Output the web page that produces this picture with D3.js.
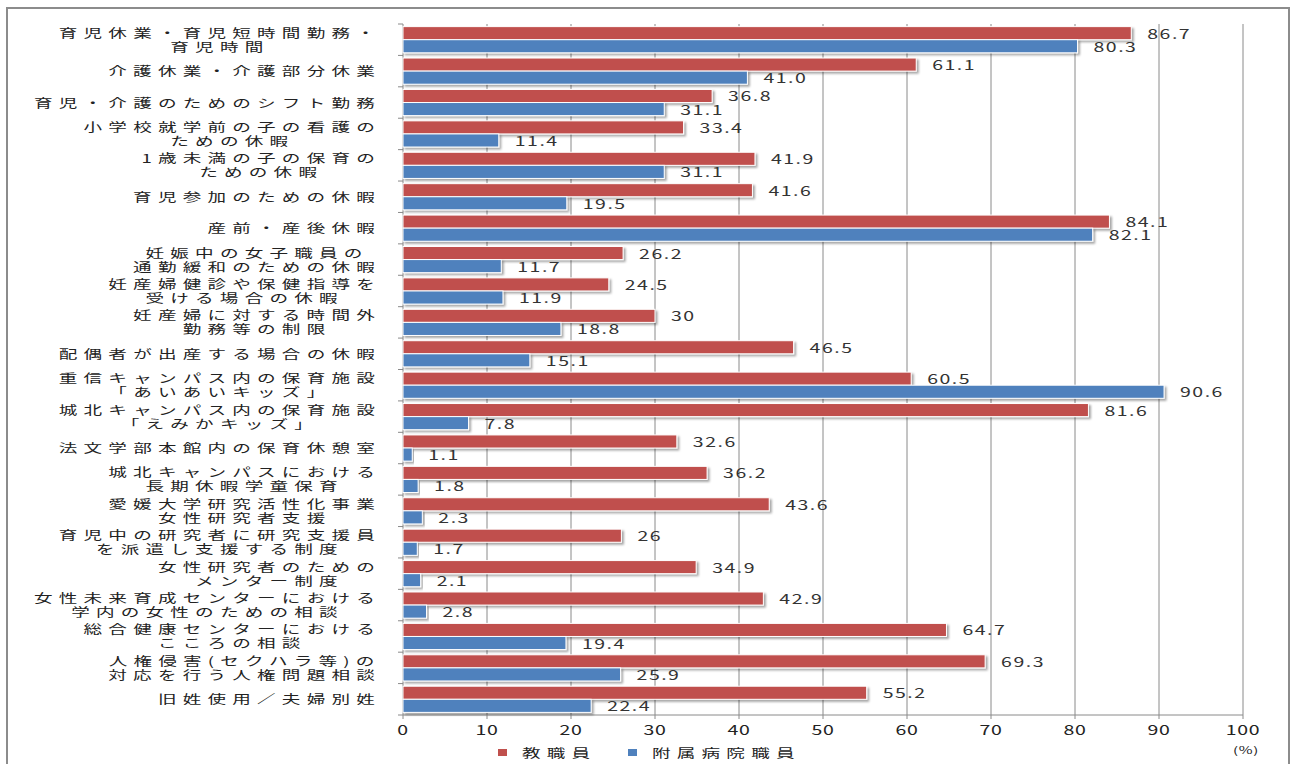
<!DOCTYPE html>
<html>
<head>
<meta charset="utf-8">
<script src="https://cdn.jsdelivr.net/npm/d3@7"></script>
<style>
  body { margin: 0; background: #fff; }
  text { font-family: "Noto Sans CJK JP", sans-serif; fill: #222; }
</style>
</head>
<body>
<div id="chart"></div>
<script>
var categories = [
  "育児休業・育児短時間勤務・\n育児時間",
  "介護休業・介護部分休業",
  "育児・介護のためのシフト勤務",
  "小学校就学前の子の看護の\nための休暇",
  "1歳未満の子の保育の\nための休暇",
  "育児参加のための休暇",
  "産前・産後休暇",
  "妊娠中の女子職員の\n通勤緩和のための休暇",
  "妊産婦健診や保健指導を\n受ける場合の休暇",
  "妊産婦に対する時間外\n勤務等の制限",
  "配偶者が出産する場合の休暇",
  "重信キャンパス内の保育施設\n「あいあいキッズ」",
  "城北キャンパス内の保育施設\n「えみかキッズ」",
  "法文学部本館内の保育休憩室",
  "城北キャンパスにおける\n長期休暇学童保育",
  "愛媛大学研究活性化事業\n女性研究者支援",
  "育児中の研究者に研究支援員\nを派遣し支援する制度",
  "女性研究者のための\nメンター制度",
  "女性未来育成センターにおける\n学内の女性のための相談",
  "総合健康センターにおける\nこころの相談",
  "人権侵害(セクハラ等)の\n対応を行う人権問題相談",
  "旧姓使用／夫婦別姓"
];
// values kept as printed in the source table
var staff = ["86.7","61.1","36.8","33.4","41.9","41.6","84.1","26.2","24.5","30","46.5",
             "60.5","81.6","32.6","36.2","43.6","26","34.9","42.9","64.7","69.3","55.2"];
var hospital = ["80.3","41.0","31.1","11.4","31.1","19.5","82.1","11.7","11.9","18.8","15.1",
                "90.6","7.8","1.1","1.8","2.3","1.7","2.1","2.8","19.4","25.9","22.4"];
var seriesNames = ["教職員", "附属病院職員"];
var xTicks = [0,10,20,30,40,50,60,70,80,90,100];

var W = 1293, H = 764;
var plotL = 403, plotR = 1243, plotT = 24, plotB = 715;
var SX = 1.5; // the source picture is stretched sideways

var svg = d3.select("#chart").append("svg")
  .attr("width", W).attr("height", H);

var defs = svg.append("defs");
var f = defs.append("filter").attr("id", "sh")
  .attr("x", "-5%").attr("y", "-30%").attr("width", "115%").attr("height", "180%");
f.append("feDropShadow").attr("dx", 2).attr("dy", 2).attr("stdDeviation", 1.2)
  .attr("flood-color", "#000").attr("flood-opacity", 0.35);

// outer frame
svg.append("rect")
  .attr("x", 7).attr("y", 8).attr("width", 1282).attr("height", 770)
  .attr("fill", "none").attr("stroke", "#8c8c8c").attr("stroke-width", 2);

var x = d3.scaleLinear().domain([0, 100]).range([plotL, plotR]);
var y = d3.scaleBand().domain(d3.range(categories.length)).range([plotT, plotB]).padding(0);
var inner = d3.scaleBand().domain([0, 1]).range([0, y.bandwidth()]).paddingOuter(0.2).paddingInner(0);

// stretched text helper
function stext(g, px, py, str, anchor, size, spacing, sx) {
  sx = sx || SX;
  return g.append("text")
    .attr("transform", "translate(" + px + "," + py + ") scale(" + sx + ",1)")
    .attr("text-anchor", anchor)
    .attr("dominant-baseline", "central")
    .style("font-size", size + "px")
    .style("letter-spacing", spacing + "px")
    .text(str);
}

// gridlines
svg.append("g").selectAll("line")
  .data(xTicks.slice(1))
  .join("line")
  .attr("x1", function(d) { return x(d); }).attr("x2", function(d) { return x(d); })
  .attr("y1", plotT).attr("y2", plotB)
  .attr("stroke", "#8a8a8a").attr("stroke-width", 1);

// axes lines
svg.append("line").attr("x1", plotL).attr("x2", plotL).attr("y1", plotT).attr("y2", plotB)
  .attr("stroke", "#8a8a8a");
svg.append("line").attr("x1", plotL).attr("x2", plotR).attr("y1", plotB).attr("y2", plotB)
  .attr("stroke", "#8a8a8a");
svg.append("g").selectAll("line")
  .data(d3.range(categories.length + 1))
  .join("line")
  .attr("x1", plotL - 5).attr("x2", plotL)
  .attr("y1", function(d) { return plotT + d * y.bandwidth(); })
  .attr("y2", function(d) { return plotT + d * y.bandwidth(); })
  .attr("stroke", "#8a8a8a");
svg.append("g").selectAll("line")
  .data(xTicks)
  .join("line")
  .attr("x1", function(d) { return x(d); }).attr("x2", function(d) { return x(d); })
  .attr("y1", plotB).attr("y2", plotB + 4)
  .attr("stroke", "#8a8a8a");

// x tick labels
var tl = svg.append("g");
xTicks.forEach(function(t) { stext(tl, x(t), 730, t, "middle", 13, 0.5); });

// bars
var colors = ["#C0504D", "#4F81BD"];
var series = [staff, hospital];
series.forEach(function(vals, si) {
  var g = svg.append("g");
  g.selectAll("rect")
    .data(vals)
    .join("rect")
    .attr("x", x(0))
    .attr("y", function(d, i) { return y(i) + inner(si); })
    .attr("width", function(d) { return x(+d) - x(0); })
    .attr("height", inner.bandwidth())
    .attr("fill", colors[si])
    .attr("stroke", "#fff").attr("stroke-width", 1)
    .attr("filter", "url(#sh)");
  vals.forEach(function(d, i) {
    stext(g, x(+d) + 16, y(i) + inner(si) + inner.bandwidth() / 2, d, "start", 13, 1)
      .style("fill", "#333");
  });
});

// category labels, lines centred within a right-aligned block
var LSX = 1.55, LH = 14;
var cl = svg.append("g");
categories.forEach(function(c, i) {
  var lines = c.split("\n");
  var cy = y(i) + y.bandwidth() / 2;
  var nodes = lines.map(function(l, k) {
    return stext(cl, 0, 0, l, "middle", 12, 4, LSX);
  });
  var maxW = d3.max(nodes, function(n) { return n.node().getComputedTextLength(); }) * LSX;
  var cx = 381 - maxW / 2;
  nodes.forEach(function(n, k) {
    n.attr("transform", "translate(" + cx + "," + (cy + (k - (lines.length - 1) / 2) * LH) + ") scale(" + LSX + ",1)");
  });
});

// legend
var lg = svg.append("g");
var lx = [498, 628];
seriesNames.forEach(function(n, i) {
  lg.append("rect").attr("x", lx[i]).attr("y", 749).attr("width", 9).attr("height", 7).attr("fill", colors[i]);
  stext(lg, lx[i] + 24, 753, n, "start", 12, 4, LSX);
});
stext(svg, 1246, 750, "(%)", "middle", 10, 0.5);
</script>
</body>
</html>
